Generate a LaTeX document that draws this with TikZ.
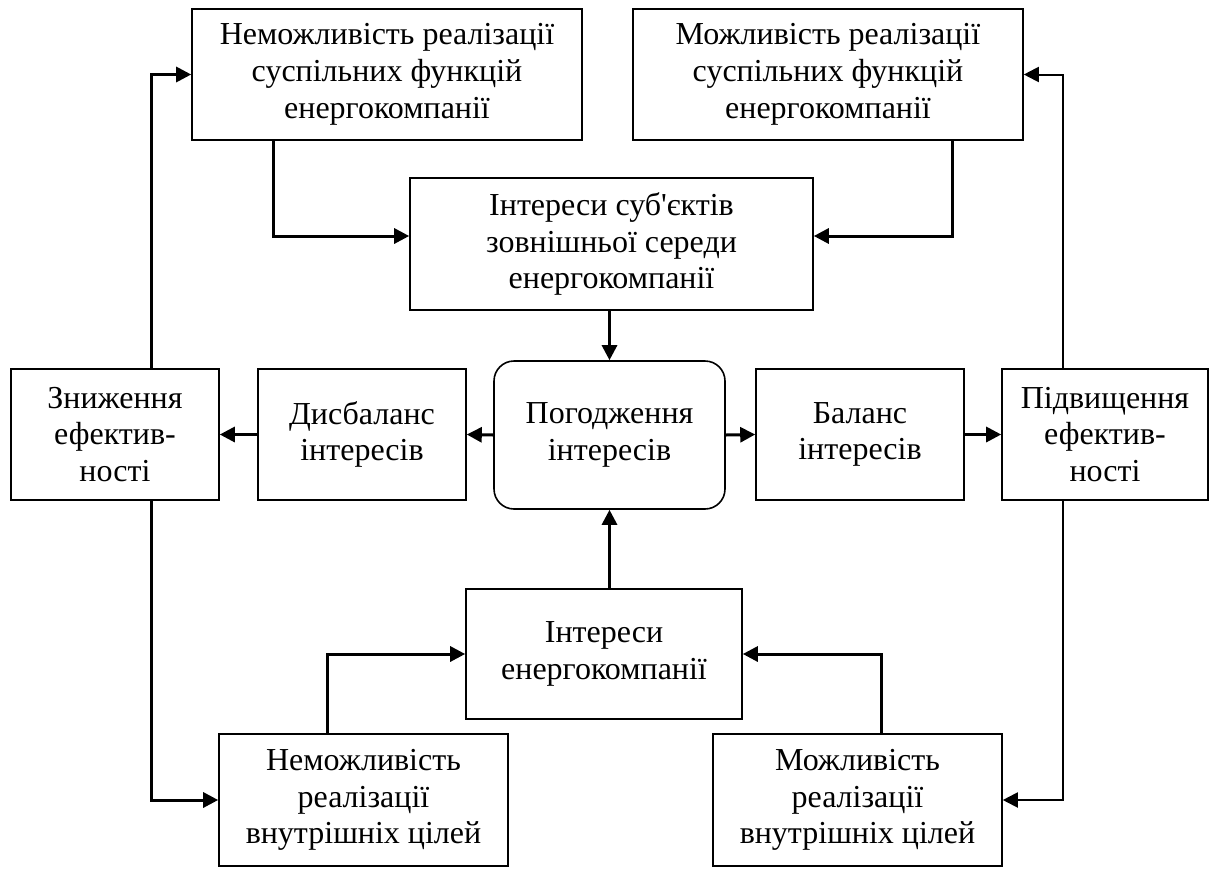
\documentclass[tikz,border=0pt]{standalone}
\usepackage{fontspec}
\newfontfamily\tnr{Liberation Serif}
\usetikzlibrary{arrows.meta}
\begin{document}
\begin{tikzpicture}[x=1pt,y=-1pt,
  box/.style={draw, line width=1.6pt, align=center, inner sep=0pt,
    font=\tnr\fontsize{32}{36.8}\selectfont},
  rbox/.style={box, rounded corners=20pt},
  arr/.style={line width=3pt, -{Triangle[length=15pt,width=15pt]}},
  thinarr/.style={line width=2pt, -{Triangle[length=15pt,width=15pt]}},
]
\useasboundingbox (0,0) rectangle (1210,868);

% top row
\node[box, minimum width=390pt, minimum height=131pt] (TL) at (387,74.5)
  {Неможливість реалізації\\суспільних функцій\\енергокомпанії};
\node[box, minimum width=390pt, minimum height=131pt] (TR) at (828,74.5)
  {Можливість реалізації\\суспільних функцій\\енергокомпанії};
\node[box, minimum width=403pt, minimum height=132pt] (CT) at (611.5,244)
  {Інтереси суб'єктів\\зовнішньої середи\\енергокомпанії};

% middle row
\node[box, minimum width=208pt, minimum height=131pt] (L) at (115,434.5)
  {Зниження\\ефектив-\\ності};
\node[box, minimum width=208pt, minimum height=131pt] (DB) at (362,434.5)
  {Дисбаланс\\інтересів};
\node[rbox, minimum width=231pt, minimum height=148pt] (RB) at (609.5,435)
  {Погодження\\інтересів};
\node[box, minimum width=208pt, minimum height=131pt] (B) at (860,434.5)
  {Баланс\\інтересів};
\node[box, minimum width=206pt, minimum height=131pt] (R) at (1105,434.5)
  {Підвищення\\ефектив-\\ності};

% bottom row
\node[box, minimum width=276pt, minimum height=130pt] (BC) at (604,654)
  {Інтереси\\енергокомпанії};
\node[box, minimum width=289pt, minimum height=132pt] (BL) at (363.5,800)
  {Неможливість\\реалізації\\внутрішніх цілей};
\node[box, minimum width=289pt, minimum height=132pt] (BR) at (857.5,800)
  {Можливість\\реалізації\\внутрішніх цілей};

% flows into the external interests box
\draw[arr] ([xshift=-114pt]TL.south) |- ([yshift=8pt]CT.west);
\draw[arr] ([xshift=124pt]TR.south) |- ([yshift=8pt]CT.east);
\draw[arr] (RB.north |- CT.south) -- (RB.north);

% outcomes of agreement
\draw[arr] (RB.west) -- (DB.east);
\draw[arr] (DB.west) -- (L.east);
\draw[arr] (RB.east) -- (B.west);
\draw[arr] (B.east) -- (R.west);

% feedback loops
\draw[arr] ([xshift=36pt]L.north) |- (TL.west);
\draw[arr] ([xshift=36pt]L.south) |- (BL.west);
\draw[thinarr] ([xshift=-42pt]R.north) |- (TR.east);
\draw[thinarr] ([xshift=-42pt]R.south) |- (BR.east);

% flows into the company interests box
\draw[arr] (RB.south |- BC.north) -- (RB.south);
\draw[arr] ([xshift=-36.5pt]BL.north) |- (BC.west);
\draw[arr] ([xshift=23.5pt]BR.north) |- (BC.east);
\end{tikzpicture}
\end{document}
